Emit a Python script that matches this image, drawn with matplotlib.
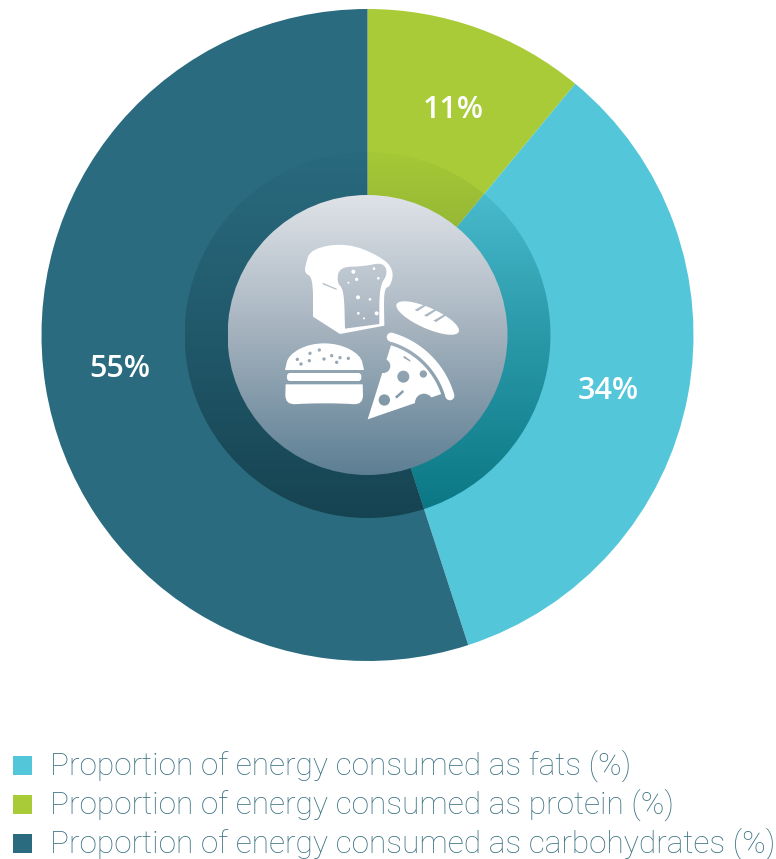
import numpy as np
from matplotlib import pyplot as plt
from matplotlib.colors import LinearSegmentedColormap
from matplotlib.patches import Circle, Ellipse, FancyBboxPatch, PathPatch, Rectangle, Wedge
from matplotlib.path import Path

labels = ['Proportion of energy consumed as fats (%)',
          'Proportion of energy consumed as protein (%)',
          'Proportion of energy consumed as carbohydrates (%)']
fats = 34
protein = 11
carbs = 55
colors = {'fats': '#53c6d9', 'protein': '#a8cb37', 'carbs': '#2a6b80'}

CX, CY = 367.5, 335
R_PIE, R_RING, R_HUB = 326, 183, 140
WHITE = '#ffffff'

fig = plt.figure(figsize=(7.76, 8.59), dpi=100)
ax = fig.add_axes([0, 0, 1, 1])

# y runs downwards here, so increasing angles go clockwise on screen
ax.pie([protein, fats, carbs],
       colors=[colors['protein'], colors['fats'], colors['carbs']],
       startangle=-90, counterclock=True, center=(CX, CY), radius=R_PIE)
ax.set_aspect('auto')
ax.axis('off')


def gradient(cmap, r, clip, zorder):
    grad = np.linspace(0, 1, 256).reshape(-1, 1)
    im = ax.imshow(grad, cmap=cmap, vmin=0, vmax=1, aspect='auto', zorder=zorder,
                   extent=(CX - r, CX + r, CY + r, CY - r), interpolation='bilinear')
    clip.set_transform(ax.transData)
    im.set_clip_path(clip)
    return im


# the darkening ring is tealer over the fats slice than over the other two
ring_fats = LinearSegmentedColormap.from_list('ring_fats', [
    (0.0, (0.0, 0.42, 0.47, 0.02)),
    (0.5, (0.0, 0.42, 0.47, 0.50)),
    (1.0, (0.0, 0.42, 0.47, 0.88))])
ring_rest = LinearSegmentedColormap.from_list('ring_rest', [
    (0.0, (0.02, 0.13, 0.16, 0.02)),
    (0.5, (0.02, 0.13, 0.16, 0.25)),
    (1.0, (0.02, 0.13, 0.16, 0.54))])
hub_cmap = LinearSegmentedColormap.from_list('hub', ['#dfe3e8', '#a3b1bd', '#5d7f94'])

fats_from = -90 + 3.6 * protein
fats_to = fats_from + 3.6 * fats
gradient(ring_fats, R_RING, Wedge((CX, CY), R_RING, fats_from, fats_to), 3)
gradient(ring_rest, R_RING, Wedge((CX, CY), R_RING, fats_to, fats_from + 360), 3)
gradient(hub_cmap, R_HUB, Circle((CX, CY), R_HUB), 4)


# icon outlines are sketched on a 3x grid whose origin is (220, 190)
def z(pts):
    return [(220 + x / 3, 190 + y / 3) for x, y in pts]


def blob(pts):
    # closed quadratic spline through edge midpoints; repeat a point for a sharp corner
    pts = np.array(z(pts))
    mids = (pts + np.roll(pts, -1, axis=0)) / 2
    verts = [mids[-1]]
    codes = [Path.MOVETO]
    for p, m in zip(pts, mids):
        verts += [p, m]
        codes += [Path.CURVE3, Path.CURVE3]
    return Path(verts, codes)


def white(path):
    ax.add_patch(PathPatch(path, fc=WHITE, ec='none', zorder=5))


def hole_circle(x, y, r):
    return Path.circle(z([(x, y)])[0], r / 3)


holes = []

# bread loaf
white(blob([(256, 225), (272, 176), (380, 158), (480, 198), (522, 238), (512, 290), (491, 294),
            (493, 407), (493, 407), (360, 432), (360, 432), (279, 380), (279, 380),
            (279, 262), (254, 250)]))
holes.append(blob([(350, 278), (358, 230), (430, 230), (490, 216), (504, 252), (478, 288),
                   (478, 402), (478, 402), (375, 416), (375, 416), (372, 298)]))
holes.append(Path(z([(308, 278), (350, 296), (350, 300), (308, 283), (308, 278)])))

# baguette
ax.add_patch(Ellipse(z([(623, 384)])[0], 204 / 3, 62 / 3, angle=24, fc=WHITE, ec='none', zorder=5))
for x, y in [(604, 350), (632, 366), (660, 382)]:
    holes.append(Path(z([(x - 20, y + 10), (x + 18, y - 12), (x + 22, y - 8), (x - 12, y + 14),
                         (x - 20, y + 10)])))

# burger
white(blob([(195, 540), (195, 540), (205, 495), (270, 460), (355, 460), (422, 495), (432, 540), (432, 540)]))
ax.add_patch(FancyBboxPatch(z([(210, 558)])[0], 205 / 3, 6 / 3, boxstyle='round,pad=3', fc=WHITE, ec='none', zorder=5))
white(blob([(197, 583), (197, 583), (195, 645), (260, 640), (370, 640), (430, 645), (428, 583), (428, 583)]))
for x, y, r in [(298, 480, 5), (270, 490, 5), (335, 497, 5), (360, 503, 5), (232, 508, 5),
                (268, 512, 5), (312, 507, 5), (385, 505, 5), (243, 522, 5), (350, 517, 5)]:
    holes.append(hole_circle(x, y, r))

# pizza slice, everything centred on its tip
tip = np.array([443, 688])
ang = np.radians(np.linspace(74, 16, 40))
arc = lambda r: tip + r * np.column_stack([np.cos(ang), -np.sin(ang)])
white(Path(z(np.vstack([arc(270), arc(243)[::-1]]))))
white(Path(z(np.vstack([[tip], arc(233)[1:-2], [tip]]))))
for end in (arc(256.5)[0], arc(256.5)[-1]):
    ax.add_patch(Circle(z([end])[0], 13.5 / 3, fc=WHITE, ec='none', zorder=5))
for x, y, r in [(550, 560, 18), (610, 552, 11), (493, 630, 17), (490, 528, 21), (612, 638, 27)]:
    holes.append(hole_circle(x, y, r))
holes.append(Path(z([(552, 497), (570, 510), (572, 516), (550, 503), (552, 497)])))
holes.append(Path(z([(525, 620), (548, 600), (552, 606), (530, 626), (525, 620)])))

# punch the holes by repainting the hub gradient through them
gradient(hub_cmap, R_HUB, PathPatch(Path.make_compound_path(*holes)), 6)

# crumbs on the cut face of the loaf
for x, y, r in [(400, 245, 6), (462, 236, 4), (410, 268, 5), (385, 278, 3), (475, 265, 4),
                (414, 322, 6), (450, 328, 4), (415, 370, 4), (470, 370, 6), (432, 385, 3)]:
    ax.add_patch(Circle(z([(x, y)])[0], r / 3, fc=WHITE, ec='none', zorder=7))

ax.set_xlim(0, 776)
ax.set_ylim(859, 0)

# value labels
for value, (x, y) in zip([protein, fats, carbs], [(453, 110), (608, 391), (120, 369)]):
    ax.text(x, y, f'{value}%', color=WHITE, fontsize=22, family='Open Sans', weight='semibold',
            ha='center', va='center', zorder=7)

# legend
for label, key, y in zip(labels, ['fats', 'protein', 'carbs'], [765, 804, 843]):
    ax.add_patch(Rectangle((13, y - 9.5), 19, 19, fc=colors[key], ec='none', zorder=7))
    ax.text(50, y + 1, label, color='#3f7485', fontsize=22.8, family='Roboto', weight='light',
            ha='left', va='center', zorder=7)

fig.savefig('out.png', dpi=100)
